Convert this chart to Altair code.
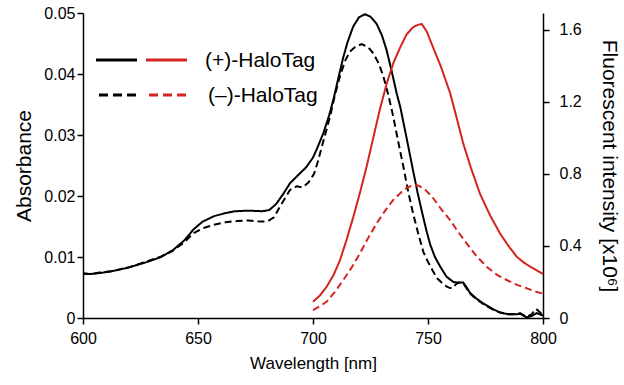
import altair as alt
import pandas as pd

# ---------------- data ----------------
# Absorbance, (+)-HaloTag (solid black)
wl_abs_plus = [600, 603, 608, 613, 620, 628, 634, 639, 644, 648, 652, 657, 662, 666, 672,
               678, 681, 684, 687, 690, 694, 697, 700, 702, 704.5, 707, 709, 711, 713, 715,
               717.5, 720, 722.6, 725, 727.7, 730, 732, 734, 736.4, 738, 740.7, 743.6,
               745.5, 747.5, 749.4, 751, 753, 755.2, 758, 761, 763, 765.3, 766.5, 768.3,
               771, 774, 778, 781.3, 785, 788.6, 790, 792.9, 795, 797.3, 800]
abs_plus = [0.0073, 0.0072, 0.0074, 0.0077, 0.0083, 0.0092, 0.0100, 0.0111, 0.0127, 0.0145,
            0.0158, 0.0167, 0.0172, 0.0175, 0.0176, 0.0175, 0.0177, 0.0187, 0.0203, 0.0221,
            0.0236, 0.0247, 0.0263, 0.0280, 0.0303, 0.0332, 0.0360, 0.0393, 0.0425, 0.0452,
            0.0478, 0.0493, 0.0498, 0.0494, 0.0482, 0.0463, 0.0439, 0.0408, 0.0368, 0.0345,
            0.0295, 0.0240, 0.0205, 0.0172, 0.0142, 0.0120, 0.0100, 0.0085, 0.0068, 0.0059,
            0.0058, 0.0058, 0.0052, 0.0041, 0.0032, 0.0024, 0.0015, 0.0009, 0.0006, 0.0006,
            0.0007, 0.0001, 0.0003, 0.0008, 0.0004]

# Absorbance, (-)-HaloTag (dashed black)
wl_abs_minus = [600, 603, 608, 613, 620, 628, 634, 639, 644, 648, 652, 657, 662, 667, 672,
                677, 680, 683, 686, 690, 693, 695.5, 698, 700.4, 702, 704, 707.4, 709.5,
                711.7, 714, 716.1, 718.5, 721.2, 724, 726.2, 728.5, 730.6, 732.8, 734.9,
                737, 739.3, 741.5, 743.6, 746, 748, 750, 752, 754, 756, 758, 759.6, 760.8,
                762, 763.5, 765.3, 766.5, 768.3, 771, 774, 778, 781.3, 785, 788.6, 790,
                792.9, 795, 797, 798.5, 800]
abs_minus = [0.0073, 0.0072, 0.0075, 0.0077, 0.0083, 0.0093, 0.0101, 0.0110, 0.0124, 0.0139,
             0.0147, 0.0153, 0.0157, 0.0159, 0.0160, 0.0158, 0.0158, 0.0165, 0.0185, 0.0210,
             0.0216, 0.0214, 0.0222, 0.0236, 0.0255, 0.0283, 0.0330, 0.0365, 0.0396, 0.0422,
             0.0437, 0.0445, 0.0449, 0.0444, 0.0434, 0.0418, 0.0396, 0.0365, 0.0330, 0.0290,
             0.0248, 0.0205, 0.0170, 0.0135, 0.0108, 0.0092, 0.0078, 0.0065, 0.0058, 0.0052,
             0.0049, 0.0049, 0.0055, 0.0058, 0.0057, 0.0050, 0.0040, 0.0031, 0.0023, 0.0014,
             0.0009, 0.0006, 0.0006, 0.0008, 0.0002, 0.0006, 0.0015, 0.0010, 0.0005]

# Fluorescence (x10^6), (+)-HaloTag (solid red)
wl_fl_plus = [700, 703, 706, 709, 711.7, 714.5, 717.5, 720.5, 723.3, 726, 729.1, 732, 734.9,
              737.8, 740.7, 743.5, 745.5, 747.3, 749.5, 752.3, 755.5, 759.6, 762.5, 765.3,
              768.5, 772.6, 777, 781.3, 785, 788.6, 792, 795.8, 800]
fl_plus = [0.09, 0.125, 0.175, 0.24, 0.32, 0.43, 0.56, 0.70, 0.84, 0.99, 1.16, 1.30, 1.415,
           1.50, 1.575, 1.615, 1.628, 1.633, 1.59, 1.50, 1.40, 1.25, 1.11, 0.97, 0.84, 0.69,
           0.57, 0.47, 0.40, 0.34, 0.305, 0.275, 0.245]

# Fluorescence (x10^6), (-)-HaloTag (dashed red)
wl_fl_minus = [700, 703, 706, 709.5, 713.2, 716.8, 720.4, 724, 727.7, 731.3, 734.9, 738.5,
               741, 743.6, 746, 749, 752.3, 756, 759.6, 763, 766.8, 771, 775.5, 780, 784.2,
               788.5, 792.9, 796.5, 800]
fl_minus = [0.044, 0.065, 0.091, 0.145, 0.211, 0.28, 0.359, 0.445, 0.526, 0.595, 0.656,
            0.70, 0.725, 0.739, 0.735, 0.71, 0.665, 0.60, 0.544, 0.48, 0.415, 0.345, 0.285,
            0.24, 0.211, 0.185, 0.165, 0.148, 0.135]

samples = ["plus", "minus"]
legend_labels = ["(+)-HaloTag", "(\u2013)-HaloTag"]
x_ticks = [600, 650, 700, 750, 800]
abs_ticks = [0, 0.01, 0.02, 0.03, 0.04, 0.05]
fl_ticks = [0, 0.4, 0.8, 1.2, 1.6]

# ---------------- chart ----------------
FONT = "Liberation Sans"
RED = "#d42420"

abs_df = pd.concat([
    pd.DataFrame({"wl": wl_abs_plus, "val": abs_plus, "sample": samples[0]}),
    pd.DataFrame({"wl": wl_abs_minus, "val": abs_minus, "sample": samples[1]}),
])
fl_df = pd.concat([
    pd.DataFrame({"wl": wl_fl_plus, "val": fl_plus, "sample": samples[0]}),
    pd.DataFrame({"wl": wl_fl_minus, "val": fl_minus, "sample": samples[1]}),
])

x_enc = alt.X("wl:Q",
              scale=alt.Scale(domain=[600, 800], nice=False, zero=False),
              axis=alt.Axis(values=x_ticks, title="Wavelength [nm]", labelPadding=6,
                            labelFlush=False, labelOverlap=False,
                            titlePadding=9, titleFontSize=17))
dash = alt.StrokeDash("sample:N",
                      scale=alt.Scale(domain=samples, range=[[1, 0], [7, 4]]),
                      legend=None)

absorb = alt.Chart(abs_df).mark_line(color="black", strokeWidth=2).encode(
    x=x_enc,
    y=alt.Y("val:Q", scale=alt.Scale(domain=[0, 0.05], nice=False),
            axis=alt.Axis(orient="left", values=abs_ticks, format=".2~f",
                          labelFlush=False, labelOverlap=False,
                          title="Absorbance", labelPadding=2, titlePadding=9,
                          titleFontSize=21)),
    strokeDash=dash,
    order="wl:Q",
)

fluor = alt.Chart(fl_df).mark_line(color=RED, strokeWidth=2).encode(
    x=x_enc,
    y=alt.Y("val:Q", scale=alt.Scale(domain=[0, 1.694], nice=False),
            axis=alt.Axis(orient="right", values=fl_ticks, format="~g",
                          labelFlush=False, labelOverlap=False,
                          title="Fluorescent intensity [x10\u2076]", labelPadding=10,
                          titlePadding=17, titleFontSize=21)),
    strokeDash=dash,
    order="wl:Q",
)

one = pd.DataFrame({"k": [0]})
leg_solid_k = alt.Chart(one).mark_rule(color="black", strokeWidth=3).encode(
    x=alt.value(13), x2=alt.value(54), y=alt.value(47))
leg_solid_r = alt.Chart(one).mark_rule(color=RED, strokeWidth=3).encode(
    x=alt.value(63), x2=alt.value(104), y=alt.value(47))
leg_dash_k = alt.Chart(one).mark_rule(color="black", strokeWidth=3, strokeDash=[9, 5]).encode(
    x=alt.value(16), x2=alt.value(53), y=alt.value(82))
leg_dash_r = alt.Chart(one).mark_rule(color=RED, strokeWidth=3, strokeDash=[9, 5]).encode(
    x=alt.value(66), x2=alt.value(103), y=alt.value(82))
leg_df = pd.DataFrame({"label": legend_labels})
leg_text1 = alt.Chart(leg_df.iloc[[0]]).mark_text(
    align="left", baseline="middle", fontSize=21, font=FONT, color="black").encode(
    text="label:N", x=alt.value(122), y=alt.value(48))
leg_text2 = alt.Chart(leg_df.iloc[[1]]).mark_text(
    align="left", baseline="middle", fontSize=21, font=FONT, color="black").encode(
    text="label:N", x=alt.value(125), y=alt.value(83))

chart = alt.layer(
    absorb, fluor, leg_solid_k, leg_solid_r, leg_dash_k, leg_dash_r, leg_text1, leg_text2
).resolve_scale(y="independent").properties(
    width=460, height=305,
    autosize=alt.AutoSizeParams(type="none"),
    padding={"left": 83, "top": 13, "right": 81, "bottom": 67},
    background="white",
).configure_view(stroke=None).configure_axis(
    grid=False, domainColor="black", domainWidth=1.5, tickColor="black", tickWidth=1.5,
    tickSize=6, labelFont=FONT, titleFont=FONT, labelFontSize=16, labelColor="black",
    titleColor="black", titleFontWeight="normal",
)

chart.save("out.html", embed_options={"renderer": "svg", "actions": False})
